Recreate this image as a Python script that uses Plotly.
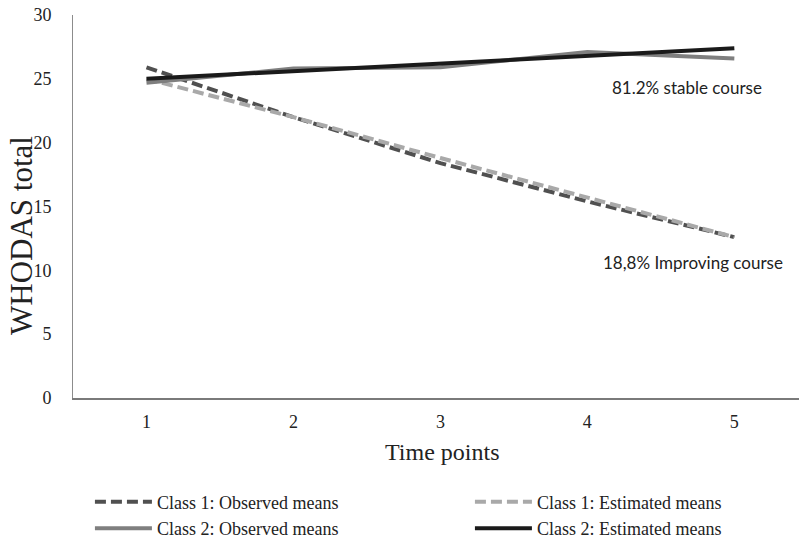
import plotly.graph_objects as go

time_points = [1, 2, 3, 4, 5]
class1_observed = [25.9, 22.0, 18.4, 15.4, 12.6]
class1_estimated = [25.0, 22.0, 18.8, 15.7, 12.6]
class2_observed = [24.7, 25.8, 25.9, 27.1, 26.6]
class2_estimated = [25.0, 25.6, 26.2, 26.8, 27.4]

series = [
    ("Class 1: Observed means", class1_observed, "#505050", "11px,5px"),
    ("Class 1: Estimated means", class1_estimated, "#a9a9a9", "11px,5px"),
    ("Class 2: Observed means", class2_observed, "#7f7f7f", "solid"),
    ("Class 2: Estimated means", class2_estimated, "#1a1a1a", "solid"),
]

fig = go.Figure()
for name, vals, color, dash in series:
    fig.add_trace(go.Scatter(
        x=time_points, y=vals, mode="lines", name=name,
        line=dict(color=color, width=4, dash=dash),
    ))

serif = "Liberation Serif, Times New Roman, serif"
sans = "Lato, Open Sans, sans-serif"
fig.update_layout(
    width=799, height=542,
    margin=dict(l=73, r=0, t=15, b=144, autoexpand=False),
    paper_bgcolor="white", plot_bgcolor="white",
    font=dict(family=serif, color="#222222", size=18),
    showlegend=True,
    legend=dict(
        orientation="h", x=-0.0001, xanchor="left", y=-0.179, yanchor="top",
        entrywidth=308, entrywidthmode="pixels", itemwidth=57,
        borderwidth=17, bordercolor="rgba(0,0,0,0)",
        font=dict(family=serif, size=18, color="#222222"),
        bgcolor="rgba(0,0,0,0)",
    ),
    annotations=[
        dict(x=4.68, y=24.35, xref="x", yref="y", text="81.2% stable course",
             showarrow=False, font=dict(family=sans, size=17, color="#222222")),
        dict(x=4.72, y=10.65, xref="x", yref="y", text="18,8% Improving course",
             showarrow=False, font=dict(family=sans, size=17, color="#222222")),
        dict(x=(22 - 73) / 726, y=0.423, xref="paper", yref="paper", text="WHODAS total",
             textangle=-90, showarrow=False, xanchor="center", yanchor="middle",
             font=dict(family=serif, size=31, color="#222222")),
        dict(x=(442 - 73) / 726, y=(398 - 452) / 383, xref="paper", yref="paper",
             text="Time points", showarrow=False, xanchor="center", yanchor="middle",
             font=dict(family=serif, size=24, color="#222222")),
    ],
)
fig.update_xaxes(
    range=[0.5, 5.44], tickmode="array", tickvals=time_points,
    ticktext=[str(t) for t in time_points], automargin=False,
    showgrid=False, zeroline=False, showline=True, linecolor="#7a7a7a", linewidth=2,
    ticks="", ticklabelstandoff=6, tickfont=dict(size=18, family=serif),
)
fig.update_yaxes(
    range=[0, 30], tickvals=[0, 5, 10, 15, 20, 25, 30], automargin=False,
    showgrid=False, zeroline=False, showline=True, linecolor="#8c8c8c", linewidth=1,
    ticks="", ticklabelstandoff=17, tickfont=dict(size=18, family=serif),
)
fig.write_html(
    "out.html",
    config={"displayModeBar": False},
    post_script="document.body.style.margin='0';document.body.style.padding='0';",
)
